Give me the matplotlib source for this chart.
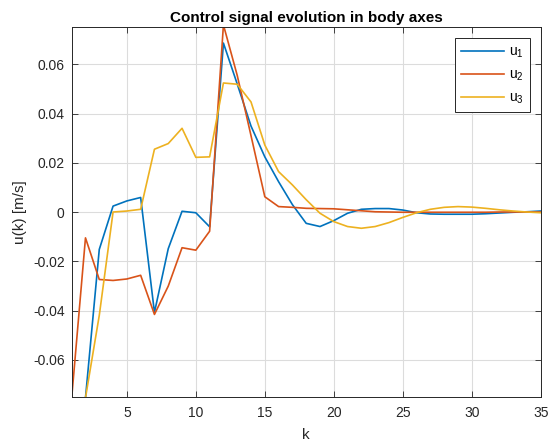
import matplotlib
matplotlib.use("Agg")
import matplotlib.pyplot as plt
import numpy as np

plt.rcParams['font.family'] = ['Liberation Sans', 'DejaVu Sans']
plt.rcParams['mathtext.fontset'] = 'custom'
plt.rcParams['mathtext.rm'] = 'Liberation Sans'

k = list(range(1, 36))
u1 = [-0.0755, -0.0755, -0.0152, 0.0024, 0.0045, 0.0059, -0.0408, -0.0149, 0.0003, -0.0003,
      -0.0060, 0.0686, 0.0520, 0.0349, 0.0224, 0.0123, 0.0030, -0.0046, -0.0059, -0.0035,
      -0.0005, 0.0011, 0.0014, 0.0014, 0.0008, -0.0003, -0.0008, -0.0009, -0.0009, -0.0009,
      -0.0007, -0.0004, -0.0001, 0.0001, 0.0004]
u2 = [-0.0755, -0.0105, -0.0274, -0.0278, -0.0272, -0.0257, -0.0416, -0.0301, -0.0145, -0.0155,
      -0.0078, 0.0760, 0.0555, 0.0310, 0.0062, 0.0022, 0.0019, 0.0015, 0.0014, 0.0013,
      0.0009, 0.0005, 0.0001, 0.0000, -0.0001, -0.0001, -0.0001, -0.0001, -0.0001, -0.0001,
      -0.0001, 0.0000, 0.0000, 0.0000, 0.0000]
u3 = [-0.0755, -0.0755, -0.0420, 0.0000, 0.0004, 0.0011, 0.0255, 0.0278, 0.0340, 0.0222,
      0.0224, 0.0524, 0.0519, 0.0447, 0.0272, 0.0164, 0.0110, 0.0050, -0.0005, -0.0039,
      -0.0059, -0.0066, -0.0059, -0.0043, -0.0022, -0.0003, 0.0011, 0.0019, 0.0022, 0.0020,
      0.0015, 0.0009, 0.0004, 0.0000, -0.0003]

labels = ['u$_{\\mathregular{1}}$', 'u$_{\\mathregular{2}}$', 'u$_{\\mathregular{3}}$']
colors = ['#0072BD', '#D95319', '#EDB120']
xticks = [5, 10, 15, 20, 25, 30, 35]
yticks = [-0.06, -0.04, -0.02, 0, 0.02, 0.04, 0.06]
yticklabels = ['-0.06', '-0.04', '-0.02', '0', '0.02', '0.04', '0.06']

fig = plt.figure(figsize=(5.48, 4.41), dpi=100)
ax = fig.add_axes([0.1308, 0.1005, 0.8559, 0.8375])

for y, lab, c in zip([u1, u2, u3], labels, colors):
    ax.plot(k, y, color=c, lw=1.2, label=lab)

ax.set_xlim(1, 35)
ax.set_ylim(-0.075, 0.075)
ax.set_xticks(xticks)
ax.set_yticks(yticks)
ax.set_yticklabels(yticklabels)
ax.grid(True, color='#dcdcdc', lw=0.8)
ax.set_axisbelow(True)
ax.tick_params(direction='in', top=True, right=True, labelsize=10, colors='#262626',
               length=4, width=0.6)
ax.tick_params(axis='x', pad=6.5)
ax.tick_params(axis='y', pad=5)
for s in ax.spines.values():
    s.set_color('#262626')
    s.set_linewidth(0.7)
ax.set_xlabel('k', fontsize=11, color='#262626', labelpad=6)
ax.set_ylabel('u(k) [m/s]', fontsize=11, color='#262626')
ax.set_title('Control signal evolution in body axes', fontsize=11, fontweight='bold', pad=4)

leg = ax.legend(loc='upper right', fontsize=10, fancybox=False, framealpha=1,
                edgecolor='#262626', handlelength=3.1, handletextpad=0.3,
                borderaxespad=0.8, labelspacing=0.55, borderpad=0.45)
leg.get_frame().set_linewidth(0.7)

fig.savefig('out.png', dpi=100)
